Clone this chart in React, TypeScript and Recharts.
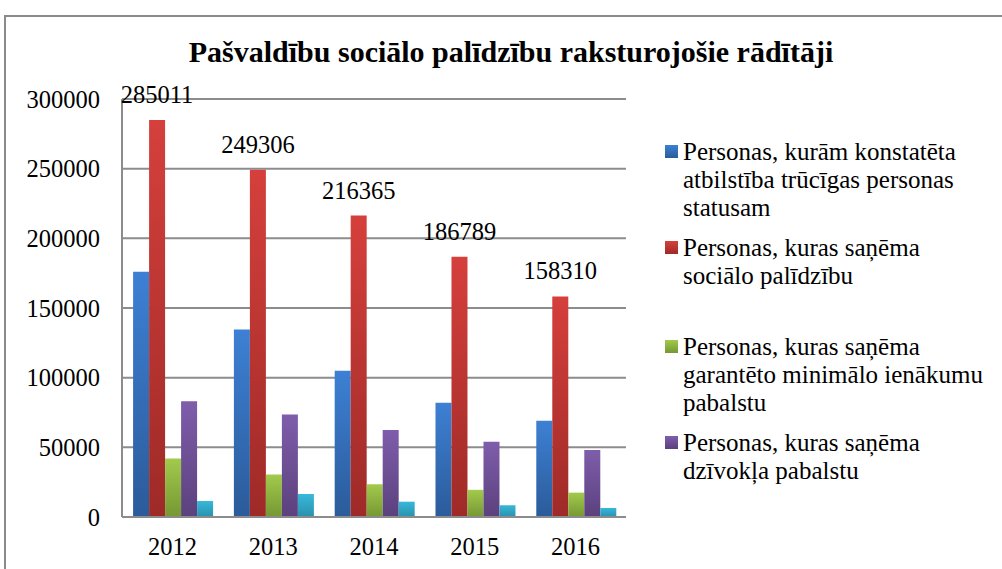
import { BarChart, Bar, XAxis, YAxis, CartesianGrid, LabelList } from "recharts"

const years = ["2012", "2013", "2014", "2015", "2016"]
const needy = [176000, 134500, 105000, 82000, 69000]
const socialAid = [285011, 249306, 216365, 186789, 158310]
const minIncome = [42000, 30500, 23500, 19500, 17500]
const housing = [83000, 73500, 62500, 54000, 48000]
const other = [11500, 16500, 11000, 8500, 6500]
const yTicks = [0, 50000, 100000, 150000, 200000, 250000, 300000]

const series = [
  { key: "needy", values: needy, top: "#3d80d4", bottom: "#2b5b9a", lines: ["Personas, kurām konstatēta", "atbilstība trūcīgas personas", "statusam"], gapAfter: 12 },
  { key: "social", values: socialAid, top: "#d5403c", bottom: "#9e2a27", lines: ["Personas, kuras saņēma", "sociālo palīdzību"], gapAfter: 43 },
  { key: "gmi", values: minIncome, top: "#a2ca4c", bottom: "#769733", lines: ["Personas, kuras saņēma", "garantēto minimālo ienākumu", "pabalstu"], gapAfter: 12 },
  { key: "housing", values: housing, top: "#7f5dab", bottom: "#5b417d", lines: ["Personas, kuras saņēma", "dzīvokļa pabalstu"], gapAfter: 12 },
  { key: "other", values: other, top: "#38b8da", bottom: "#2991ad", lines: [], gapAfter: 0 },
]

const data = years.map((year, i) => {
  const row: Record<string, string | number> = { year }
  series.forEach((s) => (row[s.key] = s.values[i]))
  return row
})

const serif = "Liberation Serif"

function LegendBox() {
  return (
    <div
      style={{
        position: "absolute",
        left: 665,
        top: 138,
        width: 335,
        fontFamily: serif,
        fontSize: 25,
        lineHeight: "28px",
        color: "#000",
      }}
    >
      {series
        .filter((s) => s.lines.length > 0)
        .map((s) => (
          <div key={s.key} style={{ position: "relative", paddingLeft: 18, marginBottom: s.gapAfter, whiteSpace: "nowrap" }}>
            <div style={{ position: "absolute", left: 0, top: 7, width: 13, height: 13, background: `linear-gradient(${s.top}, ${s.bottom})` }} />
            {s.lines.map((line) => (
              <div key={line}>{line}</div>
            ))}
          </div>
        ))}
    </div>
  )
}

export default function App() {
  return (
    <div style={{ position: "absolute", left: 0, top: 0, width: 1002, height: 569, overflow: "hidden", background: "#fff", fontFamily: serif }}>
      <div style={{ position: "absolute", left: 4, top: 15, width: 1100, height: 700, border: "2px solid #8a8a8a" }} />
      <div
        style={{
          position: "absolute",
          left: 0,
          top: 32,
          width: 1022,
          textAlign: "center",
          fontFamily: serif,
          fontWeight: "bold",
          fontSize: 30,
          lineHeight: "40px",
        }}
      >
        Pašvaldību sociālo palīdzību raksturojošie rādītāji
      </div>
      <div style={{ position: "absolute", left: 0, top: 0 }}>
        <BarChart
          width={1002}
          height={569}
          data={data}
          margin={{ top: 99, right: 376, bottom: 0, left: 0 }}
          barCategoryGap="11%"
          barGap={0}
        >
          <defs>
            {series.map((s) => (
              <linearGradient key={s.key} id={`grad-${s.key}`} x1="0" y1="0" x2="0" y2="1">
                <stop offset="0%" stopColor={s.top} />
                <stop offset="100%" stopColor={s.bottom} />
              </linearGradient>
            ))}
          </defs>
          <CartesianGrid vertical={false} stroke="#8c8c8c" strokeWidth={2} />
          <XAxis
            dataKey="year"
            height={52}
            axisLine={{ stroke: "#8c8c8c", strokeWidth: 2 }}
            tickLine={false}
            tickSize={0}
            tickMargin={21}
            tick={{ fill: "#000", fontSize: 24.5, fontFamily: serif }}
          />
          <YAxis
            width={122}
            domain={[0, 300000]}
            ticks={yTicks}
            axisLine={{ stroke: "#8c8c8c", strokeWidth: 2 }}
            tickLine={false}
            tickSize={0}
            tickMargin={22}
            tick={{ fill: "#000", fontSize: 24.5, fontFamily: serif }}
          />
          {series.map((s) => (
            <Bar key={s.key} dataKey={s.key} fill={`url(#grad-${s.key})`} isAnimationActive={false}>
              {s.key === "social" && (
                <LabelList dataKey="social" position="top" offset={17} fill="#000" fontSize={24.5} fontFamily={serif} />
              )}
            </Bar>
          ))}
        </BarChart>
      </div>
      <LegendBox />
    </div>
  )
}
